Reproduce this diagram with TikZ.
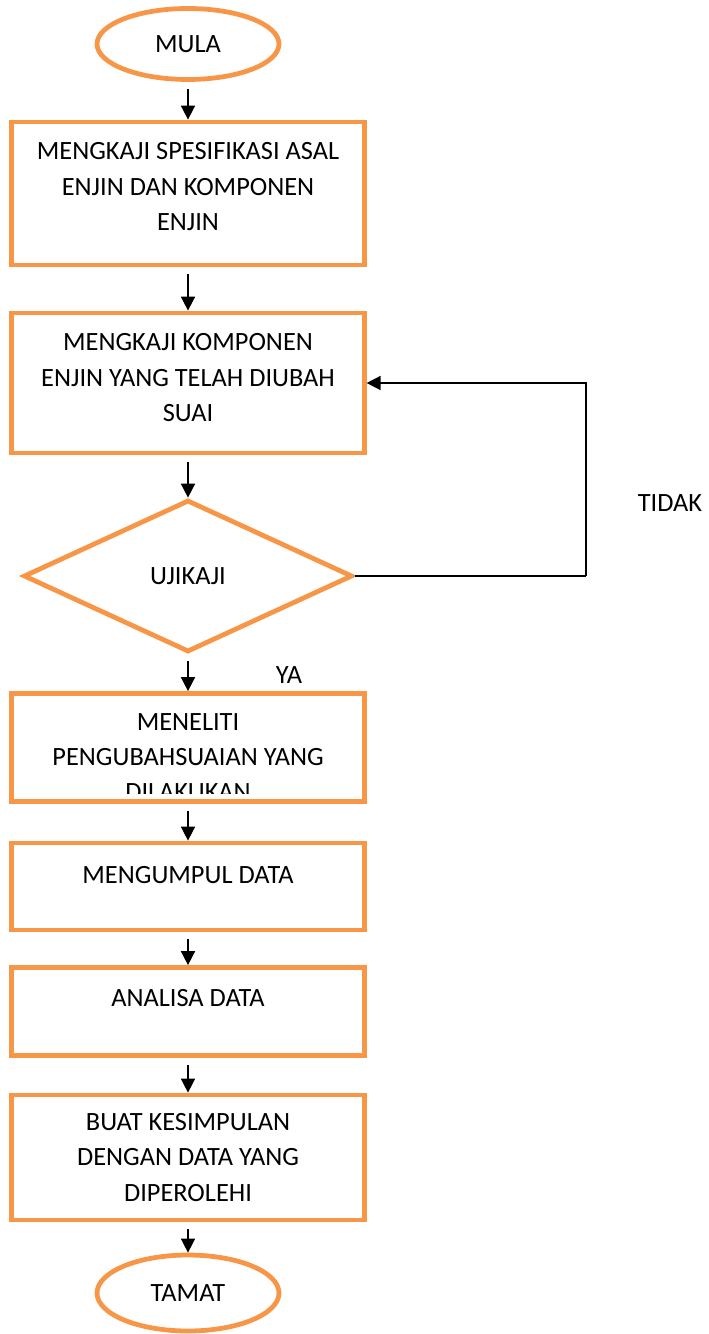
\documentclass[tikz,border=0pt]{standalone}
\usepackage{fontspec}
\setmainfont{Carlito}
\usetikzlibrary{shapes.geometric,arrows.meta}
\definecolor{flowOrange}{HTML}{F79646}

\begin{document}
\begin{tikzpicture}[x=0.02cm,y=-0.02cm,>={Triangle[width=0.28cm,length=0.28cm]},font=\fontsize{15}{20}\selectfont]
        \tikzstyle{terminal}=[ellipse,draw=flowOrange,line width=0.095cm,minimum width=3.64cm,minimum height=1.42cm,inner sep=0pt]
        \tikzstyle{process}=[rectangle,draw=flowOrange,line width=0.095cm,minimum width=7.05cm,align=center,inner sep=0pt]
        \tikzstyle{decision}=[diamond,draw=flowOrange,line width=0.095cm,minimum width=6.58cm,minimum height=3.04cm,inner sep=0pt]
        \tikzstyle{edge}=[draw=black,line width=0.9pt,->,shorten <=0.14cm]
        \tikzstyle{answer}=[inner sep=0pt,align=center]

        \useasboundingbox (0,0) rectangle (709,1334);

        \begin{scope}

            \node [terminal] (mula) at (188,44) {MULA};
            \node [process,minimum height=2.86cm,text depth=0.28cm] (spec) at (188,193.5) {MENGKAJI SPESIFIKASI ASAL\\ENJIN DAN KOMPONEN\\ENJIN};
            \node [process,minimum height=2.8cm,text depth=0.22cm] (ubah) at (188,383) {MENGKAJI KOMPONEN\\ENJIN YANG TELAH DIUBAH\\SUAI};
            \node [decision] (uji) at (188,576) {UJIKAJI};
            \node [process,minimum height=2.16cm] (teliti) at (188,747.5) {};
            \node [process,minimum height=1.74cm,text depth=0.46cm] (kumpul) at (188,886.5) {MENGUMPUL DATA};
            \node [process,minimum height=1.76cm,text depth=0.54cm] (analisa) at (188,1011.5) {ANALISA DATA};
            \node [process,minimum height=2.5cm] (simpul) at (188,1157.5) {BUAT KESIMPULAN\\DENGAN DATA YANG\\DIPEROLEHI};
            \node [terminal,minimum height=1.52cm] (tamat) at (188,1293) {TAMAT};

            % last line runs past the bottom of the box
            \begin{scope}
                \clip (teliti.north west) rectangle (372,793);
                \node [answer] (teliti text) at (188,757) {MENELITI\\PENGUBAHSUAIAN YANG\\DILAKUKAN};
            \end{scope}

            \node [answer] (tidak) at (670,503) {TIDAK};
            \node [answer] (ya) at (289,675) {YA};
            \coordinate (balik) at (586,576);

            \path[edge] (mula) edge (spec);
            \path[edge] (spec) edge (ubah);
            \path[edge] (ubah) edge (uji);
            \path[edge] (uji) edge (teliti);
            \path[edge] (teliti) edge (kumpul);
            \path[edge] (kumpul) edge (analisa);
            \path[edge] (analisa) edge (simpul);
            \path[edge] (simpul) edge (tamat);

            \draw[line width=0.9pt] (uji.east) -- (balik);
            \draw[edge,shorten <=0pt] (balik) |- (ubah.east);

        \end{scope}
\end{tikzpicture}
\end{document}
